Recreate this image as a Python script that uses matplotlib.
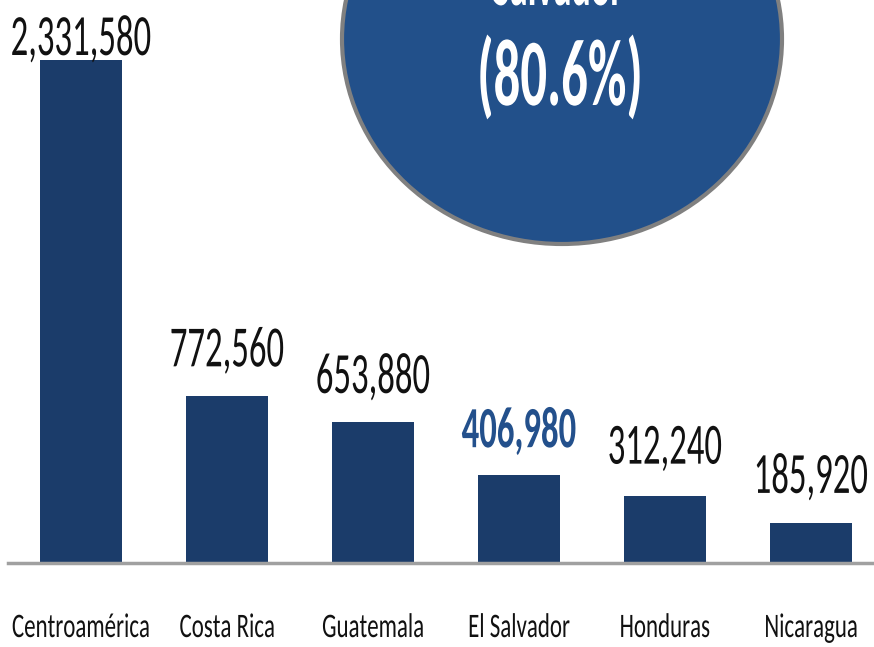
import matplotlib
matplotlib.use("Agg")
from matplotlib import pyplot as plt
from matplotlib.patches import Ellipse
from matplotlib.patheffects import AbstractPathEffect
from matplotlib.transforms import Affine2D

categories = ["Centroamérica", "Costa Rica", "Guatemala", "El Salvador", "Honduras", "Nicaragua"]
values = [2331580, 772560, 653880, 406980, 312240, 185920]
value_labels = ["2,331,580", "772,560", "653,880", "406,980", "312,240", "185,920"]
bubble_lines = ["Salvador", "(80.6%)"]

BAR = "#1b3c6a"
BUBBLE = "#22508a"
HILITE = "#23508c"
FONT = ["Carlito", "Archivo Narrow", "Barlow Semi Condensed", "DejaVu Sans"]


class Stretch(AbstractPathEffect):
    # pull glyphs up from their baseline, the source font is tall and narrow
    def __init__(self, sy):
        super().__init__()
        self.sy = sy

    def draw_path(self, renderer, gc, tpath, affine, rgbFace=None):
        renderer.draw_path(gc, tpath, Affine2D().scale(1, self.sy) + affine, rgbFace)


W, H = 874, 647
fig = plt.figure(figsize=(W / 100, H / 100), dpi=100)
ymax = values[0] * 563 / 503
ax = fig.add_axes([8 / W, (H - 563) / H, 866 / W, 563 / H])
ax.set_xlim(-0.5, (874 - 81) / 146)
ax.set_ylim(0, ymax)

x = range(len(values))
ax.bar(x, values, width=0.56, color=BAR, zorder=2)

for s in ["top", "right", "left"]:
    ax.spines[s].set_visible(False)
ax.spines["bottom"].set_color("#a0a0a0")
ax.spines["bottom"].set_linewidth(2.5)
ax.set_yticks([])
ax.set_xticks([])

# value labels, the first one is squeezed against the top
offsets = [5, 30, 29, 28, 32, 30]
for i, (v, lab) in enumerate(zip(values, value_labels)):
    hl = categories[i] == "El Salvador"
    ax.annotate(lab, (i, v), xytext=(0, offsets[i]), textcoords="offset pixels",
                ha="center", va="baseline", fontsize=25, family=FONT,
                color=HILITE if hl else "#111111",
                fontweight="bold" if hl else "normal",
                path_effects=[Stretch(1.68)])

for i, c in enumerate(categories):
    ax.text(i, -ymax * (637 - 563) / 563, c, ha="center", va="baseline",
            fontsize=16.5, family=FONT, color="#111111",
            path_effects=[Stretch(1.5)])

bubble = Ellipse((562 / W, (H - 39) / H), 440 / W, 410 / H, transform=fig.transFigure,
                 facecolor=BUBBLE, edgecolor="#808080", linewidth=3, zorder=5)
fig.add_artist(bubble)
fig.text(558 / W, (H - 5) / H, bubble_lines[0], ha="center", va="baseline",
         fontsize=26, family=FONT, color="white", fontweight="bold", zorder=6,
         path_effects=[Stretch(1.8)])
fig.text(560 / W, (H - 105) / H, bubble_lines[1], ha="center", va="baseline",
         fontsize=38, family=FONT, color="white", fontweight="bold", zorder=6,
         path_effects=[Stretch(1.8)])

fig.savefig("out.png", dpi=100)
